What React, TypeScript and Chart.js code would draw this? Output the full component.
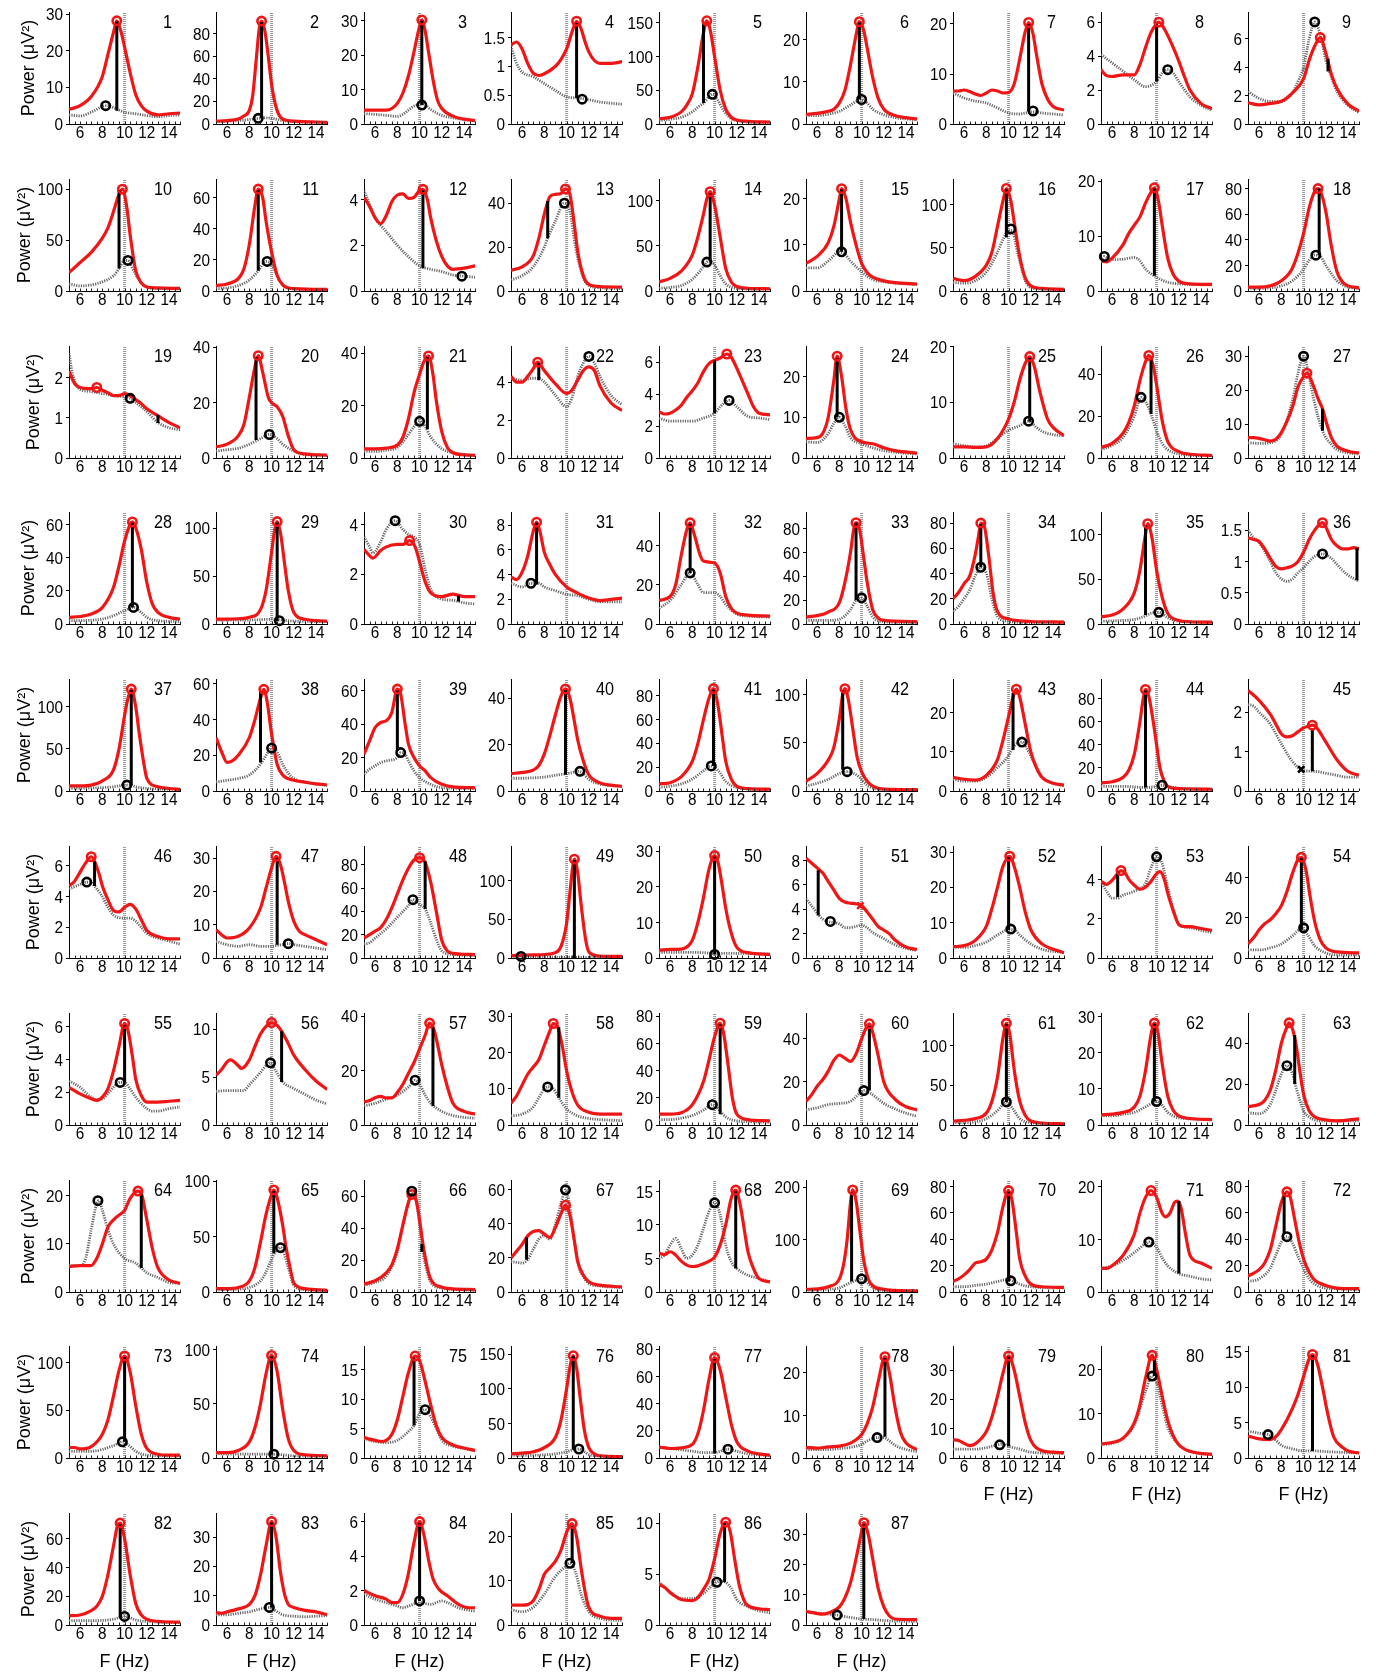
import React, { useEffect, useRef } from 'react';
import { Chart, registerables } from 'chart.js';

Chart.register(...registerables);

// ---------------- DATA ----------------
const xTickLabels = [6, 8, 10, 12, 14];
const xRange = [5, 15];
const refFreq = 10;
const yLabel = 'Power (μV²)';
const xLabel = 'F (Hz)';

const yMaxes = [
  30.6, 99, 32.5, 1.94, 166, 26.5, 22.4, 6.6, 7.9,
  110, 72, 4.9, 51, 124, 24.3, 130, 20.4, 87.5,
  2.78, 40.5, 42.8, 5.9, 7.0, 27.5, 20.1, 53.5, 33,
  67.5, 117, 4.5, 9.07, 57, 94, 88.8, 125, 1.79,
  133, 62.8, 67, 48.3, 94, 116, 28.6, 97, 2.84,
  7.3, 33.6, 96, 145, 31.5, 9.2, 31.7, 5.7, 55.6,
  6.84, 11.7, 41.2, 30.9, 82.5, 52, 141, 31, 54.8,
  23.3, 101, 70, 65.8, 16.7, 214, 85, 21.3, 85,
  117.5, 103.7, 19, 162, 82.5, 26.3, 38.2, 25.3, 15.8,
  78, 38.2, 6.5, 25.4, 11, 37.2,
];

const yStepSizes = [
  10, 20, 10, 0.5, 50, 10, 10, 2, 2,
  50, 20, 2, 20, 50, 10, 50, 10, 20,
  1, 20, 20, 2, 2, 10, 10, 20, 10,
  20, 50, 2, 2, 20, 20, 20, 50, 0.5,
  50, 20, 20, 20, 20, 50, 10, 20, 1,
  2, 10, 20, 50, 10, 2, 10, 2, 20,
  2, 5, 20, 10, 20, 20, 50, 10, 20,
  10, 50, 20, 20, 5, 100, 20, 10, 20,
  50, 50, 5, 50, 20, 10, 10, 10, 5,
  20, 10, 2, 10, 5, 10,
];

// red spectra: flat [f, P, f, P, ...]
const redSpectra: number[][] = [
  [5,4, 6,5, 7,7.5, 8,13, 8.5,19, 9,25, 9.3,28.2, 9.7,25, 10,21, 10.5,14, 11,8, 11.5,5, 12,3.5, 13,2.5, 14,2.8, 15,3],
  [5,2.5, 6,3, 7,4.5, 7.5,7, 8,12, 8.3,25, 8.6,55, 8.9,85, 9.1,91, 9.4,82, 9.7,60, 10,35, 10.4,15, 10.8,6, 11.5,3, 12,2.5, 15,1.5],
  [5,4, 6,4, 7,4, 7.5,4.5, 8,6, 8.5,9, 9,14, 9.5,21, 9.9,27, 10.2,30.2, 10.5,27, 10.8,21, 11.2,13, 11.6,7, 12,4.5, 13,2.3, 14,1.4, 15,1],
  [5,1.37, 5.5,1.42, 6,1.3, 6.5,1.05, 7,0.88, 7.5,0.84, 8,0.87, 9,1.0, 9.5,1.12, 10,1.3, 10.5,1.6, 10.9,1.78, 11.3,1.65, 11.7,1.4, 12,1.25, 12.5,1.1, 13,1.05, 14,1.05, 15,1.08],
  [5,8, 6,10, 7,18, 7.5,28, 8,45, 8.5,85, 9,135, 9.3,153, 9.6,140, 10,100, 10.5,50, 11,22, 11.5,10, 12,6, 13,4, 15,3],
  [5,2.3, 6,2.5, 7,3, 7.5,3.5, 8,5, 8.5,8, 9,14, 9.5,21, 9.8,24.2, 10.2,22, 10.5,18, 11,11, 11.5,6, 12,3.5, 13,2, 14,1.5, 15,1.2],
  [5,6.6, 5.5,6.6, 6,6.8, 6.5,6.5, 7,6.0, 7.5,5.7, 8,6.2, 8.5,6.8, 9,6.6, 9.5,6.2, 10,6.3, 10.5,8, 11,13, 11.5,18.5, 11.8,20.3, 12.2,18, 12.5,14, 13,8, 13.5,5, 14,3.5, 15,2.8],
  [5,3.2, 5.5,2.85, 6,2.8, 7,2.9, 8,2.9, 8.5,3.5, 9,4.5, 9.5,5.4, 10,5.9, 10.2,6.0, 10.7,5.6, 11.5,4.5, 12,3.7, 12.5,2.8, 13,2.0, 14,1.2, 15,0.9],
  [5,1.5, 6,1.35, 7,1.45, 8,1.6, 9,2.2, 10,3.2, 10.5,4.5, 11,5.5, 11.5,6.1, 12,5, 12.5,3.5, 13,2.5, 14,1.4, 15,0.9],
  [5,18, 6,28, 7,38, 8,52, 8.5,62, 9,78, 9.5,95, 9.8,100, 10.2,82, 10.5,55, 11,20, 11.5,8, 12,4, 13,3, 15,2.5],
  [5,3.5, 6,4.5, 7,8, 7.5,14, 8,30, 8.5,55, 8.8,65.5, 9.2,60, 9.5,45, 10,25, 10.5,10, 11,4, 12,1.5, 15,1],
  [5,4.1, 5.5,3.7, 6,3.2, 6.5,2.95, 7,3.3, 7.5,3.9, 8,4.2, 8.5,4.25, 9,4.05, 9.5,4.1, 10,4.4, 10.3,4.45, 10.7,4.0, 11,3.2, 11.5,2.2, 12,1.5, 12.5,1.1, 13,0.95, 14,1.0, 15,1.1],
  [5,9.5, 6,11, 7,16, 7.5,24, 8,35, 8.5,43, 9,44, 9.5,44.5, 9.9,46.5, 10.3,44, 10.7,30, 11,18, 11.5,7, 12,3, 13,2, 15,1.8],
  [5,10, 6,14, 7,22, 8,40, 8.5,60, 9,85, 9.3,102, 9.6,110, 10,95, 10.5,60, 11,25, 11.5,10, 12,5, 13,3, 15,2.5],
  [5,6, 6,7.5, 7,10.5, 7.5,14, 8,20, 8.2,22.2, 8.6,20, 9,15, 9.5,10, 10,6, 10.5,4, 11,3, 12,2.2, 13,1.8, 15,1.5],
  [5,15, 5.5,13, 6,12, 7,17, 8,30, 8.5,45, 9,75, 9.5,105, 9.8,119, 10.2,105, 10.5,80, 11,40, 11.5,15, 12,6, 13,3, 15,2],
  [5,5.5, 5.5,5.3, 6,6, 7,8.5, 7.5,10.5, 8,12, 8.5,13.5, 9,16, 9.5,18, 9.8,18.8, 10.2,16, 10.5,12, 11,6, 11.5,3, 12,1.8, 13,1.3, 15,1.2],
  [5,3, 6,3, 7,4, 8,8, 9,18, 10,45, 10.5,65, 11,78, 11.3,80, 11.6,76, 12,62, 12.5,35, 13,15, 13.5,7, 14,4, 15,2.5],
  [5,2.15, 5.5,1.85, 6,1.75, 7,1.72, 7.5,1.75, 8,1.68, 8.5,1.62, 9,1.55, 9.5,1.55, 10,1.6, 10.5,1.55, 11,1.45, 11.5,1.35, 12,1.22, 13,1.05, 14,0.88, 15,0.75],
  [5,4, 6,5, 7,8, 7.5,12, 8,22, 8.5,33, 8.8,37, 9.2,31, 9.7,22, 10,20, 10.5,18.5, 11,15, 11.5,8, 12,3, 13,1.5, 15,1],
  [5,3.5, 6,3.5, 7,3.8, 8,5, 8.5,8, 9,15, 9.5,25, 10,32, 10.4,37, 10.8,39, 11.2,32, 11.5,22, 12,10, 12.5,4, 13,2, 14,1.2, 15,1],
  [5,4.3, 5.5,4.0, 6,4.0, 6.5,4.3, 7,4.7, 7.4,5.05, 8,4.6, 9,3.9, 10,3.4, 10.5,3.6, 11,4.1, 11.5,4.6, 12,4.8, 12.5,4.6, 13,3.8, 14,2.9, 15,2.5],
  [5,2.9, 5.5,2.75, 6,2.8, 6.5,3.0, 7,3.3, 7.5,3.8, 8,4.2, 8.5,4.7, 9,5.4, 9.5,5.9, 10,6.1, 10.5,6.25, 11.1,6.5, 11.5,6.3, 12,5.6, 13,4, 13.5,3.2, 14,2.8, 15,2.7],
  [5,4.8, 6,5, 6.5,6, 7,10, 7.5,19, 7.8,25, 8.2,20, 8.6,12, 9,7, 10,4, 11,3.5, 12,2.5, 13,1.8, 15,1.2],
  [5,2, 6,2, 7,1.9, 8,2, 9,3.5, 10,7, 10.5,10, 11,14, 11.5,17, 11.9,18.2, 12.3,16.5, 12.8,12, 13.5,7, 14,5.5, 15,4],
  [5,5, 6,7, 7,12, 7.5,17, 8,25, 8.5,37, 9,46, 9.3,49, 9.7,44, 10,35, 10.5,18, 11,8, 12,3, 13,1.8, 15,1.2],
  [5,6, 5.5,6, 6,5.8, 7,5, 7.5,5.5, 8,7.5, 9,15, 9.5,21, 10,24, 10.3,25, 10.8,22, 11.3,17.5, 11.7,14.5, 12,11, 12.5,6, 13,3.5, 14,2, 15,1.5],
  [5,4, 6,4.5, 7,6, 8,10, 9,22, 9.5,35, 10,50, 10.5,60, 10.7,61.5, 11,58, 11.5,45, 12,25, 12.5,12, 13,7, 14,4, 15,3],
  [5,5, 6,5, 7,5.5, 8,7, 9,15, 9.5,35, 10,75, 10.3,100, 10.5,107, 10.8,95, 11.2,60, 11.5,35, 12,12, 13,5, 15,3],
  [5,3.0, 5.5,2.75, 5.8,2.65, 6.5,2.95, 7,3.1, 8,3.2, 8.5,3.2, 9.1,3.35, 9.6,3.1, 10,2.5, 10.5,1.7, 11,1.25, 12,1.1, 13,1.2, 13.5,1.15, 14,1.1, 15,1.1],
  [5,3.8, 5.5,3.6, 6,4.2, 6.5,5.5, 7,7.5, 7.3,8.25, 7.6,7.5, 8,5.8, 8.5,4.8, 9,4, 10,3, 11,2.5, 12,2.1, 13,1.9, 14,2, 15,2.1],
  [5,12, 6,14, 6.5,20, 7,35, 7.5,48, 7.8,51.5, 8.2,45, 8.7,35, 9,32, 10,31, 10.5,26, 11,14, 11.5,8, 12,5.5, 13,4.5, 15,4],
  [5,6, 6,7, 7,10, 8,18, 8.5,35, 9,60, 9.3,80, 9.5,85, 9.8,80, 10.2,55, 10.5,35, 11,12, 11.5,5, 12,3, 15,2],
  [5,20, 5.5,25, 6,32, 6.5,38, 7,55, 7.3,70, 7.5,80, 7.8,78, 8.2,55, 8.6,25, 9,10, 10,4, 11,2.5, 12,2, 15,1.5],
  [5,8, 6,10, 7,17, 8,35, 8.5,60, 9,100, 9.2,112, 9.6,95, 10,60, 10.5,30, 11,12, 12,4, 13,2.5, 15,2],
  [5,1.38, 5.5,1.35, 6,1.32, 6.5,1.2, 7,1.05, 7.5,0.92, 8,0.88, 8.5,0.9, 9,0.93, 9.5,1.0, 10,1.15, 10.5,1.35, 11,1.5, 11.7,1.62, 12,1.55, 12.5,1.35, 13,1.25, 13.5,1.2, 14,1.2, 14.5,1.22, 15,1.2],
  [5,6, 6,6, 7,7, 8,12, 9,25, 9.5,50, 10,90, 10.3,110, 10.6,121, 11,100, 11.3,70, 11.7,35, 12,15, 13,5, 14,3, 15,2],
  [5,30, 5.5,22, 6,16, 6.5,17, 7,20, 8,30, 8.5,40, 9,52, 9.3,57, 9.6,50, 10,32, 10.5,15, 11,9, 12,6, 13,5, 14,4, 15,3.5],
  [5,22, 5.5,30, 6,38, 6.5,41, 7,42, 7.5,47, 8,61, 8.3,58, 8.7,40, 9,28, 9.5,20, 10,15, 10.5,12, 11,8, 12,4, 13,2.5, 15,2],
  [5,7.5, 6,8, 7,9, 7.5,11, 8,16, 8.5,24, 9,33, 9.5,41, 9.9,44, 10.3,40, 10.7,30, 11,22, 11.5,13, 12,7, 13,3.5, 14,2.5, 15,2],
  [5,6, 6,7, 7,12, 8,25, 8.5,40, 9,60, 9.5,78, 9.9,86, 10.3,72, 10.7,45, 11,25, 11.5,10, 12,4, 13,2, 15,1.5],
  [5,10, 6,18, 7,32, 7.5,45, 8,75, 8.3,100, 8.5,106, 8.8,95, 9.2,65, 9.6,35, 10,20, 10.5,10, 11,5, 12,2, 15,1.5],
  [5,3.5, 6,3, 7,2.8, 8,4, 9,8, 9.5,13, 10,19, 10.4,24, 10.7,26, 11,24, 11.5,17, 12,10, 12.5,6, 13,3.5, 14,2, 15,1.5],
  [5,7, 6,8, 7,12, 7.5,18, 8,32, 8.5,60, 8.8,80, 9,88, 9.3,82, 9.7,60, 10,40, 10.3,20, 10.7,8, 11,4, 12,2, 15,1.5],
  [5,2.55, 6,2.3, 7,1.95, 7.5,1.7, 8,1.45, 8.5,1.37, 9,1.4, 9.5,1.5, 10,1.6, 10.5,1.65, 10.8,1.67, 11.2,1.6, 12,1.25, 13,0.8, 14,0.5, 15,0.4],
  [5,4.7, 5.5,5.0, 6,5.6, 6.5,6.2, 7,6.6, 7.3,6.3, 7.7,5.5, 8,4.7, 8.5,3.8, 9,3.1, 9.5,3.0, 10,3.3, 10.5,3.5, 11,3.2, 11.5,2.5, 12,1.8, 13,1.4, 14,1.25, 15,1.25],
  [5,8.5, 5.5,7, 6,6, 7,6.5, 8,9, 9,15, 9.5,21, 10,27, 10.4,30.5, 10.8,28, 11.2,22, 11.5,17, 12,11, 12.5,8, 13,7, 14,5.5, 15,4],
  [5,17, 5.5,20, 6,23, 6.5,26, 7,33, 7.5,43, 8,55, 8.5,67, 9,77, 9.5,84, 10,86, 10.5,82, 11,65, 11.5,40, 12,15, 12.5,6, 13,4, 15,3],
  [5,3, 7,4, 8,4.5, 9,7, 9.5,15, 10,45, 10.3,85, 10.7,128, 11,110, 11.3,70, 11.7,25, 12,8, 13,2.5, 15,2],
  [5,2.2, 6,2.4, 7,2.5, 8,5, 8.5,10, 9,17, 9.5,25, 10,28.8, 10.3,27, 10.7,20, 11,14, 11.5,7, 12,3, 13,1.5, 15,1],
  [5,8.2, 5.5,7.8, 6,7.4, 6.5,7.0, 7,6.3, 7.5,5.6, 8,4.9, 8.5,4.6, 9,4.5, 9.5,4.45, 10,4.3, 10.5,3.8, 11,3.2, 11.5,2.6, 12,2.3, 12.5,2.0, 13,1.5, 14,0.9, 15,0.7],
  [5,3.2, 6,3.5, 7,5, 8,9, 8.5,14, 9,20, 9.5,26, 10.1,28.8, 10.5,26, 11,20, 11.5,13, 12,8, 13,4, 14,2.5, 15,1.5],
  [5,3.9, 5.5,3.75, 6,3.95, 6.5,4.3, 6.8,4.45, 7.2,4.3, 7.5,4.0, 8,3.7, 8.5,3.5, 9,3.6, 9.5,3.9, 10,4.3, 10.3,4.4, 10.7,4.0, 11,3.3, 11.5,2.4, 12,1.7, 12.5,1.6, 13,1.6, 14,1.5, 15,1.4],
  [5,7, 5.5,10, 6,14, 6.5,17, 7,19, 7.5,22, 8,26, 8.5,33, 9,42, 9.5,49, 9.8,50, 10.2,44, 10.6,30, 11,18, 11.5,9, 12,5, 13,3, 15,2.5],
  [5,2.3, 6,1.9, 7,1.6, 7.5,1.5, 8,1.7, 8.5,2.2, 9,3.3, 9.5,4.8, 10,6.2, 10.3,5.8, 10.7,4.2, 11,2.8, 11.5,1.8, 12,1.4, 13,1.4, 14,1.45, 15,1.5],
  [5,5.2, 5.5,5.8, 6,6.6, 6.3,6.8, 7,6.2, 7.3,5.9, 8,6.8, 8.5,8.2, 9,9.5, 9.5,10.3, 10,10.7, 10.5,10.4, 11,9.6, 11.5,8.5, 12,7.3, 13,5.8, 14,4.6, 15,3.7],
  [5,8.5, 5.5,9, 6,10, 6.5,10.5, 7,10, 7.5,10, 8,12, 8.5,15, 9,19, 9.5,23, 10,28, 10.5,33, 10.9,37.5, 11.3,35, 11.7,28, 12,22, 12.5,14, 13,8, 14,5, 15,4],
  [5,6, 5.5,8, 6,11, 6.5,14, 7,16, 7.5,18, 8,22, 8.5,26, 8.8,28, 9.2,27, 9.6,22, 10,15, 10.5,9, 11,5.5, 12,3.5, 13,3, 15,3],
  [5,8, 6,8, 7,9, 8,15, 9,32, 9.5,48, 10,65, 10.5,75, 10.8,68, 11.2,45, 11.6,20, 12,8, 13,4, 15,3],
  [5,11, 5.5,14, 6,18, 6.5,21, 7,25, 7.5,30, 8,32.5, 8.5,31, 9,29.5, 9.5,33, 10,40, 10.5,46, 10.7,47, 11,43, 11.5,32, 12,20, 13,12, 14,8.5, 15,7],
  [5,5, 6,6, 7,8, 8,15, 8.5,30, 9,60, 9.5,110, 9.8,128, 10.1,115, 10.5,70, 11,30, 11.5,12, 12,5, 13,2.5, 15,1.5],
  [5,2.8, 6,3, 7,3.5, 8,5, 8.5,8, 9,15, 9.5,25, 9.8,28.2, 10.1,26, 10.5,17, 11,8, 11.5,4, 12,2.5, 13,1.8, 15,1.5],
  [5,9, 6,10, 6.5,12, 7,17, 7.5,27, 8,40, 8.5,48, 8.7,50, 9,47, 9.3,40, 9.7,25, 10,15, 10.5,7, 11,4, 12,2.5, 13,2, 15,3],
  [5,5.3, 6,5.5, 7,5.5, 7.5,7, 8,10, 8.5,13.5, 9,15, 9.5,16, 10,17, 10.5,19.5, 11.2,21, 11.5,20.5, 12,15, 12.5,9, 13,5, 14,2.5, 15,1.8],
  [5,3, 6,3, 7,4, 8,10, 8.5,22, 9,45, 9.5,70, 10,88, 10.2,92, 10.5,85, 11,60, 11.3,40, 11.7,20, 12,8, 13,3, 15,1.5],
  [5,5, 6,7, 7,12, 7.5,17, 8,27, 8.5,42, 9,56, 9.3,61, 9.7,57, 10,45, 10.3,30, 10.7,15, 11,8, 12,3, 13,2, 15,1.5],
  [5,20, 5.5,24, 6,28, 6.5,33, 7,35.5, 7.5,36, 8,34, 8.5,32, 9,38, 9.5,46, 9.9,51, 10.3,45, 10.7,30, 11,18, 11.5,10, 12,6, 13,4, 15,3],
  [5,5.8, 5.5,5.6, 6,6.0, 6.5,5.5, 7,4.6, 7.5,4.0, 8,3.8, 8.5,3.9, 9,4.2, 9.5,4.6, 10,5.2, 10.5,7, 11,10, 11.5,14, 11.9,15.2, 12.3,13, 12.7,9, 13,6, 13.5,3.5, 14,2, 15,1.5],
  [5,5, 6,6, 7,10, 8,25, 8.4,55, 8.7,100, 9.0,170, 9.2,195, 9.5,175, 9.8,125, 10.2,60, 10.6,25, 11,12, 12,5, 13,3, 15,2],
  [5,8, 5.5,10, 6,13, 6.5,17, 7,22, 7.5,23, 8,25, 8.5,32, 9,45, 9.5,65, 10,77, 10.3,70, 10.7,45, 11,25, 11.5,12, 12,6, 13,4, 15,3.5],
  [5,4.5, 5.5,4.5, 6,5, 7,7, 8,11, 8.5,15, 9,18, 9.5,19.3, 10,18, 10.5,15, 10.8,14.3, 11.2,15, 11.6,17, 11.9,17.3, 12.2,16, 12.6,11, 13,7, 14,5.5, 15,4.5],
  [5,12, 6,17, 6.5,22, 7,32, 7.5,50, 8,68, 8.5,76, 8.8,72, 9.2,55, 9.6,38, 10,25, 10.5,15, 11,9, 12,5, 13,3, 15,2.5],
  [5,11, 5.5,11, 6,9.5, 7,12, 8,25, 8.5,40, 9,65, 9.5,92, 10,107, 10.5,90, 11,55, 11.5,25, 12,10, 13,4, 14,3, 15,3],
  [5,5, 6,5, 7,7, 8,15, 8.5,28, 9,50, 9.5,78, 10,95, 10.5,80, 11,45, 11.5,18, 12,7, 13,3, 15,2],
  [5,3.5, 5.5,3.2, 6,3, 6.5,2.8, 7,3, 7.5,4, 8,6.5, 8.5,10.5, 9,14.5, 9.6,17.3, 10,16.5, 10.5,13, 11,9, 11.5,5.5, 12,3.5, 13,2.2, 14,1.7, 15,1.3],
  [5,6, 6,7, 7,9, 8,15, 9,30, 9.5,55, 10,100, 10.4,140, 10.6,148, 10.9,130, 11.2,90, 11.6,40, 12,15, 12.5,6, 13,3, 15,2],
  [5,8, 6,7, 7,7.5, 8,10, 8.5,18, 9,35, 9.5,58, 10,74, 10.5,65, 11,45, 11.5,25, 12,12, 13,5, 14,3, 15,2],
  [5,2.5, 6,2.3, 7,2.6, 8,2.8, 9,3.5, 10,5.5, 10.5,8, 11,12, 11.5,18, 12.1,23.8, 12.5,20, 13,12, 13.5,6, 14,3.5, 15,2],
  [5,6.2, 5.5,6, 6,5, 6.5,4.2, 7,4.8, 8,9, 8.5,14, 9,21, 9.5,29, 10,34.8, 10.5,30, 11,21, 11.5,12, 12,6, 13,2.5, 14,2, 15,1.8],
  [5,3.2, 6,3.5, 7,4.5, 8,8, 8.5,12, 9,18, 9.6,23.2, 10,20, 10.5,14, 11,8.5, 11.5,5, 12,3, 13,1.5, 15,0.8],
  [5,3.1, 6,2.7, 7,2.6, 7.5,3, 8,4, 9,7, 9.5,9, 10,11.5, 10.5,14, 10.8,14.6, 11.2,13.5, 11.7,10, 12.2,6, 12.7,3, 13.5,1.5, 14,1, 15,0.7],
  [5,6.5, 6,7, 7,10, 7.5,13, 8,20, 8.5,35, 9,55, 9.4,70, 9.6,71, 10,60, 10.5,35, 11,15, 11.5,7, 12,4, 13,2.5, 15,2],
  [5,4.2, 5.5,4, 6,4.5, 7,5.5, 8,7, 8.5,10, 9,17, 9.5,27, 10,35.3, 10.4,30, 10.8,18, 11.2,10, 11.5,7, 12,6, 13,5, 14,4.5, 15,3.5],
  [5,2.0, 6,1.7, 7,1.5, 7.5,1.3, 8,1.3, 8.5,1.8, 9,3, 9.5,4.8, 10,6.0, 10.4,5.2, 10.8,3.8, 11.2,2.7, 11.7,2.1, 12.5,1.7, 13.5,1.2, 14.5,1.0, 15,1.0],
  [5,4.5, 6,4.5, 7,5.5, 7.5,8, 8,11.5, 8.5,13, 9,14.5, 9.5,17, 10,21, 10.5,23, 10.9,20, 11.3,13, 11.7,7, 12,4, 13,2, 14,1.5, 15,1.5],
  [5,4, 5.5,3.7, 6,3.2, 6.5,2.8, 7,2.5, 8,2.4, 8.5,2.7, 9,3.5, 9.5,4.5, 10,6.5, 10.5,9, 11,10.1, 11.4,9.2, 11.8,6.5, 12.2,4, 12.7,2.3, 13,1.9, 14,1.6, 15,1.5],
  [5,4.5, 6,3.8, 6.5,3.6, 7,4, 8,6, 8.5,9, 9,14, 9.5,22, 10,31, 10.2,34, 10.6,30, 11,22, 11.5,12, 12,6, 12.5,3, 13,2, 15,1.8],
];

// dotted (gray) spectra: flat [f, P, ...]
const graySpectra: number[][] = [
  [5,2.5, 6,2.2, 7,3.2, 8,4.8, 8.4,5, 9,4.5, 9.5,3.8, 10,3.2, 11,2.8, 12,2.3, 13,2, 14,2.3, 15,2.5],
  [5,2, 6,2.5, 7,3, 8,4, 8.8,5, 9.5,5.5, 10,5, 10.5,4, 11,3, 12,2, 13,1.7, 15,1.5],
  [5,3, 6,2.8, 7,2.5, 8,2.2, 8.5,2.8, 9,4, 9.5,5.2, 10.2,5.8, 10.6,5.3, 11,4.2, 12,2.5, 13,1.8, 14,1.3, 15,1],
  [5,1.35, 5.5,1.05, 6,0.9, 7,0.82, 8,0.7, 9,0.58, 10,0.47, 11,0.45, 12,0.42, 13,0.38, 14,0.36, 15,0.34],
  [5,5, 6,7, 7,10, 8,18, 8.5,25, 9,31, 9.8,44, 10.3,35, 10.8,20, 11.5,8, 12,5, 13,3, 15,2],
  [5,2, 6,2, 7,2.3, 8,3, 9,4.5, 9.5,5.3, 10,5.8, 10.5,5, 11,3.5, 12,2.2, 13,1.5, 15,1],
  [5,6.2, 6,5.2, 7,4.6, 8,4.2, 9,3.2, 10,2.2, 11,2.0, 12,2.4, 12.5,2.4, 13,2.2, 14,2.0, 15,1.8],
  [5,4.1, 6,3.6, 7,3.1, 8,2.6, 9,2.2, 10,2.5, 10.5,3.0, 11,3.2, 11.5,3.0, 12,2.5, 13,1.6, 14,1.1, 15,0.8],
  [5,2.3, 6,1.8, 7,1.6, 8,1.6, 9,2.2, 9.5,3, 10,4.0, 10.5,6.0, 11,7.2, 11.5,6.3, 12,4.5, 12.5,3.3, 13,2.3, 14,1.3, 15,0.8],
  [5,7, 6,5, 7,6, 8,9, 9,15, 9.5,22, 10,30, 10.3,30, 10.8,20, 11.5,8, 12,4, 13,2.5, 15,2],
  [5,1.5, 6,2, 7,3.5, 8,7, 8.8,13, 9.5,19, 10,17, 10.5,10, 11,4, 12,1.5, 15,1],
  [5,4.4, 5.5,3.8, 6,3.2, 7,2.6, 8,2.0, 9,1.5, 10,1.1, 11,0.95, 12,0.85, 13,0.7, 14,0.65, 15,0.6],
  [5,5, 6,7, 7,11, 8,20, 8.3,24, 9,32, 9.8,40, 10.3,36, 10.8,20, 11.5,6, 12,2.5, 13,1.5, 15,1],
  [5,3, 6,4, 7,6, 8,13, 9,27, 9.3,32, 9.6,33, 10,29, 10.5,17, 11,8, 12,3, 15,2],
  [5,5, 6,5, 7,6.5, 8,8.5, 8.5,8, 9,6.5, 10,4.2, 11,2.5, 12,2, 13,1.7, 15,1.4],
  [5,10, 6,9, 7,12, 8,22, 9,45, 9.5,60, 10,70, 10.3,70, 10.8,45, 11.5,12, 12,4, 13,2, 15,1.5],
  [5,5.5, 5.3,6.3, 5.6,6.0, 6,5.7, 7,5.8, 8,6.1, 8.5,5.5, 9,4, 10,2.5, 11,1.6, 12,1.3, 15,1.1],
  [5,2, 6,2, 7,2.5, 8,4, 9,8, 10,17, 10.5,24, 11,28, 11.5,27, 12,20, 13,8, 14,3, 15,2],
  [5,2.6, 5.3,2.1, 5.6,1.85, 6,1.7, 7,1.65, 8,1.6, 9,1.55, 10,1.52, 10.5,1.48, 11,1.38, 12,1.15, 13,0.88, 14,0.75, 15,0.7],
  [5,2.5, 6,3, 7,3.5, 8,5, 9,7, 9.8,8.5, 10.5,7, 11,5, 12,2.5, 13,1.2, 15,1],
  [5,2.5, 6,2.5, 7,3, 8,4, 9,9, 9.5,12, 10,14, 10.5,12, 11,8, 12,3.5, 13,2, 15,1],
  [5,4.2, 6,4.1, 7,4.2, 7.5,4.2, 8,4.0, 9,3.3, 10,2.7, 10.5,3.2, 11,4.3, 11.5,5.0, 12,5.35, 12.5,5.0, 13,4.3, 14,3.3, 15,2.8],
  [5,2.5, 6,2.3, 7,2.3, 8,2.3, 9,2.5, 10,2.8, 10.5,3.2, 11,3.5, 11.3,3.6, 12,3.2, 13,2.6, 14,2.5, 15,2.4],
  [5,4, 6,3.8, 7,6, 7.5,8.5, 8,10, 8.5,8, 9,5, 10,3.5, 11,2.5, 12,1.8, 13,1.4, 15,1],
  [5,2.6, 6,2.2, 7,2, 8,2.2, 9,3.5, 10,5, 11,5.8, 11.8,6.6, 12.5,5.5, 13,4.8, 14,4.2, 15,4],
  [5,4, 6,6, 7,10, 8,20, 8.6,29, 9,27, 9.5,21, 10,13, 10.5,7, 11,4, 12,2, 15,1],
  [5,4.5, 6,4.3, 7,4.5, 8,7, 9,17, 9.5,25, 10,30, 10.5,24, 11,16, 11.7,8, 12.5,4, 13,2.5, 14,1.5, 15,1.2],
  [5,2, 6,2, 7,2.3, 8,3, 9,5, 10,8, 10.8,10, 11.5,7, 12,4, 13,2, 15,1.5],
  [5,4, 7,4, 9,4.5, 10,5, 11,4, 12,3, 15,2.5],
  [5,3.5, 5.5,3.1, 5.8,2.85, 6.5,3.3, 7,3.8, 7.8,4.15, 8.5,3.8, 9,3.6, 9.5,3.5, 10,3.2, 10.5,2.2, 11,1.4, 12,1.0, 13,0.95, 14,0.85, 15,0.8],
  [5,3.3, 6,3.0, 6.8,3.3, 7.5,3.3, 8,3.0, 9,2.7, 10,2.4, 11,2.3, 12,2.0, 13,1.8, 14,1.8, 15,1.8],
  [5,8, 6,12, 7,20, 7.8,26, 8.5,20, 9,16, 10,16, 10.5,14, 11,10, 12,5, 13,4, 15,3.5],
  [5,3, 6,3, 7,3, 8,4, 9,12, 9.5,20, 10,22, 10.5,15, 11,6, 12,2, 15,1],
  [5,10, 5.5,14, 6,20, 6.5,27, 7,38, 7.5,45, 8,40, 8.5,20, 9,6, 10,2, 12,1, 15,0.8],
  [5,3, 7,4, 8,5, 9,9, 9.5,12, 10.2,13, 11,7, 12,3, 15,2],
  [5,1.5, 5.5,1.38, 6,1.3, 7,1.0, 7.5,0.82, 8,0.72, 8.5,0.68, 9,0.72, 9.5,0.82, 10,0.9, 10.5,1.0, 11,1.08, 11.7,1.12, 12.5,1.05, 13,0.95, 14,0.78, 14.8,0.7, 15,0.68],
  [5,3, 7,3.5, 9,5, 10,7, 10.5,7, 11,5, 12,3, 15,2],
  [5,5, 6,6, 7,7, 8,9, 9,15, 9.5,20, 10,24, 10.5,22, 11,15, 11.5,10, 12,7, 13,5, 15,3],
  [5,10, 5.5,13, 6,15, 6.5,17, 7,18, 8,20, 8.3,23, 8.7,22, 9,18, 9.5,12, 10,8, 11,4, 12,2, 15,1.5],
  [5,5.5, 6,5.5, 7,5.7, 8,6, 9,6.8, 10,7.5, 10.5,8, 11,8.5, 11.5,7.5, 12,5, 13,3, 15,2],
  [5,3, 6,4, 7,6, 8,10, 9,17, 9.7,21, 10,20, 10.5,15, 11,8, 12,3, 15,1],
  [5,5, 6,8, 7,12, 8,18, 8.7,20, 9.5,17, 10,12, 10.5,6, 11,3, 12,1.5, 15,1],
  [5,3, 6,2.5, 7,2.5, 8,3.5, 9,6, 10,9, 10.5,11.5, 11.2,12.5, 11.8,10, 12.5,6, 13,3.5, 14,2, 15,1.3],
  [5,4, 7,4, 8,3.5, 9,3, 10,4, 10.5,5, 11,4, 12,2.5, 15,1.5],
  [5,2.2, 5.5,2.15, 6,2.0, 7,1.7, 8,1.2, 9,0.75, 10,0.52, 11,0.5, 12,0.45, 13,0.4, 14,0.35, 15,0.35],
  [5,4.5, 6,4.8, 6.6,4.95, 7,4.9, 7.5,4.5, 8,4.0, 8.5,3.3, 9,2.8, 10,2.6, 10.5,2.6, 11,2.4, 11.5,2.0, 12,1.6, 13,1.3, 14,1.1, 15,0.9],
  [5,5, 6,4, 7,3.5, 8,4, 9,3.5, 10,3.5, 10.5,3.8, 11,4, 11.5,4.3, 12,4, 13,3.5, 14,3, 15,2.5],
  [5,12, 5.5,13, 6,17, 7,25, 8,35, 9,45, 9.4,50, 10,46, 10.5,42, 11,30, 11.5,16, 12,6, 13,3, 15,2],
  [5,1.5, 6,1.5, 8,1.2, 10,1, 12,0.8, 15,0.5],
  [5,1.6, 7,1.6, 9,1.5, 10,1.2, 11,1.3, 12,1.3, 15,1.1],
  [5,4.9, 5.5,4.3, 6,3.7, 6.5,3.2, 7,3.0, 8,2.8, 8.5,2.5, 9,2.5, 9.5,2.6, 10,2.7, 10.5,2.5, 11,2.1, 12,1.6, 13,1.1, 14,0.8, 15,0.6],
  [5,3, 6,3, 7,3.5, 8,4.5, 9,6.5, 10,8, 10.5,8, 11,6.5, 12,4, 13,2.5, 15,1.5],
  [5,3.9, 5.5,3.4, 6,3.05, 6.5,3.05, 7,3.2, 8,3.4, 9,3.8, 9.5,4.6, 10,5.15, 10.5,4.8, 11,3.6, 11.5,2.5, 12,1.7, 13,1.55, 14,1.4, 15,1.3],
  [5,4, 6,4, 7,5, 8,7, 9,11, 9.8,14.5, 10.3,12, 11,6, 12,2.5, 13,1.5, 15,1.5],
  [5,2.7, 6,2.3, 7,1.7, 7.5,1.55, 8,1.6, 9,2.3, 9.6,2.6, 10,2.6, 10.5,2.2, 11,1.7, 12,1.0, 12.5,0.85, 13,0.85, 14,1.0, 15,1.1],
  [5,3.5, 6,3.6, 7,3.6, 7.5,3.6, 8,4.2, 9,5.5, 9.5,6.2, 9.9,6.5, 10.3,5.8, 11,4.5, 12,3.8, 13,3.2, 14,2.6, 15,2.2],
  [5,7, 6,8, 7,9.5, 8,11, 9,14, 9.6,16.5, 10,15, 10.5,11, 11,8, 12,5, 13,3.5, 14,2.8, 15,2.5],
  [5,2.5, 6,3, 7,5, 7.5,7.5, 8,10, 8.3,10.5, 8.8,10, 9.3,7.5, 10,4.5, 11,2.5, 12,1.8, 13,1.5, 15,1.2],
  [5,4, 6,4, 7,5, 8,7, 9,11, 9.8,15, 10.3,12, 11,6, 12,3, 15,2],
  [5,7, 6,8, 7,9.5, 8,10, 9,11, 10,15.5, 10.2,16, 10.7,15, 11.5,12, 12,10, 13,7.5, 14,5.5, 15,4],
  [5,3, 6,3, 7,4, 8,8, 9,18, 9.8,29, 10.3,22, 11,8, 12,3, 15,1],
  [5,2.5, 6,2.5, 7,3, 8,3.5, 9,5, 10,6.5, 10.5,5.5, 11,3.5, 12,2, 15,1.5],
  [5,6, 6,5.5, 7,10, 7.5,17, 8,25, 8.5,29, 9,25, 9.5,15, 10,7, 10.5,4, 11,2.5, 12,2, 15,2],
  [5,5.5, 6,5.5, 6.5,7, 7,13, 7.5,18.5, 7.7,19, 8,17, 8.5,13, 9,10, 10,7, 11,6, 11.5,5, 12,4, 13,3, 14,2, 15,1.8],
  [5,2, 7,2.5, 8,4, 9,10, 9.5,18, 10,30, 10.5,38, 10.8,40, 11.2,32, 11.7,15, 12,6, 13,2, 15,1],
  [5,4, 6,6, 7,10, 8,25, 8.5,42, 9,57, 9.3,63, 9.7,57, 10,42, 10.3,25, 10.7,12, 11,6, 12,2.5, 15,1],
  [5,18, 6,17, 6.5,19, 7,25, 7.5,31, 8,33, 8.5,31, 9,40, 9.5,52, 9.9,60, 10.3,50, 10.7,30, 11,17, 11.5,9, 12,5, 13,3.5, 15,2.5],
  [5,5, 5.5,5.5, 6,7, 6.5,8, 7,6.5, 7.5,5, 8,5.5, 8.5,7, 9,9.5, 9.5,12, 10,13.3, 10.5,11.5, 11,7, 11.5,4.5, 12,3.5, 13,2.5, 14,2, 15,1.5],
  [5,3, 7,5, 8,8, 9,18, 9.5,22, 10,25, 10.5,18, 11,8, 12,3, 15,2],
  [5,4, 6,4, 7,5, 8,6, 9,8, 10,9.5, 10.5,8, 11,6, 12,4, 15,3],
  [5,4.5, 6,5, 7,6, 8,7.5, 9,9.2, 9.3,9.5, 10,8.5, 10.5,6.5, 11,5, 12,3.5, 13,3, 14,2.5, 15,2.3],
  [5,8, 6,10, 7,18, 7.5,28, 8,38, 8.5,42, 9,37, 9.5,27, 10,18, 10.5,10, 11,6, 12,3, 15,2],
  [5,7, 6,7, 7,7, 8,9, 9,13, 9.8,17, 10.3,14, 11,7, 12,3, 15,2],
  [5,4, 7,3.5, 9,3.5, 10,3.5, 11,3, 12,2, 15,1.5],
  [5,3.3, 6,2.8, 7,2.6, 8,3, 9,4.5, 9.5,5.5, 10,7.5, 10.5,8.2, 11,7, 11.5,5, 12,3, 13,2, 14,1.6, 15,1.2],
  [5,4, 7,4, 9,6, 10,9, 10.6,12, 11.1,13, 11.6,9, 12,5, 13,3, 15,2],
  [5,8, 6,7, 7,6, 8,5, 9,4, 10,4, 10.5,5, 11.2,6.5, 12,5, 13,3, 15,2],
  [5,2, 6,2, 7,2, 8,2.2, 9,2.5, 10,3.2, 10.5,4, 11.4,4.8, 12,4.8, 12.5,4, 13,3, 14,2, 15,1.5],
  [5,3, 6,3, 7,3, 8,3.5, 9,4.5, 9.5,4.8, 10,4, 11,3, 12,2, 15,1.5],
  [5,3, 6,3.3, 7,4.5, 8,7.5, 9,15, 9.6,18.5, 10,17, 10.5,12, 11,7, 12,3, 13,1.5, 15,0.8],
  [5,3.8, 6,3.5, 6.8,3.3, 7.5,2.5, 8,1.8, 9,1.3, 10,1.0, 11,1, 12,0.9, 15,0.7],
  [5,3, 7,3, 9,4, 10,6, 10.5,5, 11,3.5, 12,2.5, 15,1.5],
  [5,3.5, 6,3.5, 7,4, 8,4.5, 9,5.5, 9.8,6, 10.3,5, 11,3.5, 12,3, 13,2.8, 14,3, 15,3.2],
  [5,1.8, 6,1.5, 7,1.3, 8,1.1, 8.5,1.0, 9,1.1, 10,1.3, 11,1.2, 12,1.4, 12.5,1.3, 13.5,1.0, 14.5,0.85, 15,0.8],
  [5,3.5, 6,3, 7,4, 8,7, 9,11, 10,13.5, 10.3,14, 10.8,12, 11.3,7, 12,3, 13,1.5, 15,1],
  [5,4.2, 5.5,3.7, 6,3.2, 7,2.6, 8,2.6, 9,3.1, 9.5,3.6, 10,4.1, 10.5,4.3, 11,4.2, 11.5,3.6, 12,2.5, 13,1.8, 14,1.4, 15,1.2],
  [5,4.5, 6,4, 7,3.6, 7.8,3.3, 8.5,2.8, 9,2.5, 10,2, 11,1.8, 12,1.5, 13,1.3, 15,1.2],
];

// red marker [f, P]
const redMarks: number[][] = [
  [9.3,28.2],[9.1,91],[10.2,30.2],[10.9,1.78],[9.3,153],[9.8,24.2],[11.8,20.3],[10.2,6.0],[11.5,6.1],
  [9.8,100],[8.8,65.5],[10.3,4.45],[9.9,46.5],[9.6,110],[8.2,22.2],[9.8,119],[9.8,18.8],[11.3,80],
  [7.5,1.75],[8.8,37],[10.8,39],[7.4,5.05],[11.1,6.5],[7.8,25],[11.9,18.2],[9.3,49],[10.3,25],
  [10.7,61.5],[10.5,107],[9.1,3.35],[7.3,8.25],[7.8,51.5],[9.5,85],[7.5,80],[9.2,112],[11.7,1.62],
  [10.6,121],[9.3,57],[8.0,61],[9.9,44],[9.9,86],[8.5,106],[10.7,26],[9.0,88],[10.8,1.67],
  [7.0,6.6],[10.4,30.5],[10.0,86],[10.7,128],[10.0,28.8],[9.9,4.3],[10.1,28.8],[6.8,4.45],[9.8,50],
  [10.0,6.2],[10.0,10.7],[10.9,37.5],[8.8,28],[10.5,75],[10.7,47],[9.8,128],[9.8,28.2],[8.7,50],
  [11.2,21],[10.2,92],[9.3,61],[9.9,51],[11.9,15.2],[9.2,195],[10.0,77],[9.5,19.3],[8.5,76],
  [10.0,107],[10.0,95],[9.6,17.3],[10.6,148],[10.0,74],[12.1,23.8],[10.0,34.8],[9.6,23.2],[10.8,14.6],
  [9.6,71],[10.0,35.3],[10.0,6.0],[10.5,23],[11.0,10.1],[10.2,34],
];

// black marker on dotted spectrum [f, P]
const blackMarks: number[][] = [
  [8.3,5],[8.8,5],[10.2,5.5],[11.4,0.43],[9.8,44],[10.0,5.8],[12.2,2.6],[11.0,3.2],[11.0,7.2],
  [10.3,30],[9.6,19],[13.8,0.65],[9.8,40],[9.3,32],[8.2,8.5],[10.2,72],[5.3,6.3],[11.1,28],
  [10.5,1.48],[9.8,8.5],[10.0,14],[12.0,5.35],[11.3,3.6],[8.0,10],[11.8,6.6],[8.6,29],[10.0,30],
  [10.8,10],[10.7,3.5],[7.8,4.15],[6.8,3.3],[7.8,26],[10.0,22],[7.5,45],[10.2,13],[11.7,1.12],
  [10.2,7],[10.0,24],[8.3,23],[11.2,8.5],[9.7,21],[8.7,20],[11.2,12.5],[10.5,5],[9.8,0.55],
  [6.6,4.95],[11.5,4.3],[9.4,50],[5.9,2],[10.0,1.0],[7.2,3.0],[10.2,8.2],[10.0,5.15],[10.0,15],
  [9.6,2.6],[9.9,6.5],[9.6,16.5],[8.3,10.5],[9.8,15],[10.2,16],[9.8,29],[10.0,6.5],[8.5,29],
  [7.6,19],[10.8,40],[9.3,63],[9.9,60],[10.0,13.3],[10.0,25],[10.2,8.5],[9.3,9.5],[8.5,42],
  [9.8,17],[10.2,3.5],[10.5,8.2],[11.1,13],[11.2,6.5],[11.4,4.8],[9.2,4.5],[9.6,18.5],[6.8,3.3],
  [10.0,6],[9.8,6],[10.0,1.4],[10.3,14],[10.2,4.2],[7.8,3.3],
];

// difference bar [f, top P, bottom P]
const diffBars: number[][] = [
  [9.3,28,3.6],[9.1,90,5],[10.2,30,5.5],[10.9,1.75,0.45],[9.0,150,31],[9.8,24,5.8],[11.8,20,2.5],[10.0,5.9,2.5],[12.2,4.6,3.7],
  [9.5,99,22],[8.8,65,13],[10.3,4.4,1.0],[8.3,41,24],[9.6,108,33],[8.2,22,8.5],[9.8,118,62],[9.8,18.7,2.8],[11.4,80,28],
  [13,1.07,0.87],[8.6,36.5,6.5],[10.7,38.5,11],[7.5,5.0,4.1],[10.0,6.1,2.8],[7.8,24.5,10],[11.9,18,6.5],[9.5,47,21],[11.7,14.5,8],
  [10.7,61,10],[10.5,106,3],[13.5,1.15,0.9],[7.3,8.2,3.2],[7.8,51,26],[9.5,85,20],[7.5,79,45],[9.0,110,10],[14.8,1.22,0.7],
  [10.6,120,7],[9.0,56,16],[8.0,60,24],[9.9,43.5,7],[9.9,85,21],[8.3,104,22],[10.4,25,10.5],[9.0,87,3],[10.8,1.6,0.5],
  [7.3,6.3,4.7],[10.5,30,4],[10.5,83,42],[10.7,127,0],[10.0,28.5,1],[6.1,7.2,3.5],[10.0,28.5,8],[6.5,4.4,3.1],[9.8,49.5,14],
  [10.0,6.1,2.6],[10.9,9.8,4.5],[11.2,36,7],[9.3,27,7.5],[10.5,74,8],[10.7,46,16],[9.8,127,29],[9.8,28,6.5],[9.2,44,20],
  [11.5,20.5,5],[10.2,91,35],[10.2,30,25],[6.4,32,19],[11.9,15,3.5],[9.1,190,20],[10.0,76,8],[12.0,17.3,3.5],[8.25,75,44],
  [10.0,106,17],[10.0,94,3],[9.5,17,5.5],[10.6,147,12],[10.0,73,3.5],[12.1,23.5,5],[10.0,34.5,4],[9.8,22.8,18.5],[10.8,14.5,1],
  [9.6,70,5],[10.0,35,6],[10.0,5.9,1.4],[10.5,22.5,14],[10.9,10,4.2],[10.2,33.5,2],
];

const redCrossPanels = [51];
const blackCrossPanels = [45];

// ---------------- STYLE / LAYOUT ----------------
const FONT = "'Liberation Sans', Arial, Helvetica, sans-serif";
const LBL_SIZE = 17;
const LBL_SX = 0.9; // horizontal squeeze of tick/panel labels (tall, narrow digits)
const LBL_CAP = 12.2;

const RED = 'rgb(240,22,22)';
const COLS = 9;
const COL_STEP = 147.4;
const ROW_STEP = 166.8;
const AXIS_W = 69;
const PLOT_W = 114;
const PLOT_H = 112;
const PAD_TOP = 8;
const XAXIS_H = 50;
const CANVAS_W = AXIS_W + PLOT_W + 4;
const CANVAS_H = PAD_TOP + PLOT_H + XAXIS_H;

const toPoints = (flat: number[]) => {
  const pts: { x: number; y: number }[] = [];
  for (let i = 0; i < flat.length; i += 2) pts.push({ x: flat[i], y: flat[i + 1] });
  return pts;
};

const fmtTick = (v: any) => String(Math.round(Number(v) * 1000) / 1000);

function drawLabel(ctx: CanvasRenderingContext2D, text: string, x: number, y: number, align: CanvasTextAlign) {
  ctx.save();
  ctx.translate(x, y);
  ctx.scale(LBL_SX, 1);
  ctx.textAlign = align;
  ctx.textBaseline = 'alphabetic';
  ctx.fillText(text, 0, 0);
  ctx.restore();
}

const decorPlugin = {
  id: 'panelDecor',
  beforeDatasetsDraw(chart: any, _args: any, opts: any) {
    const { ctx, chartArea } = chart;
    ctx.save();
    ctx.fillStyle = '#000';
    ctx.font = `${LBL_SIZE + 1}px ${FONT}`;
    drawLabel(ctx, String(opts.label), chartArea.left + 103, chartArea.top + 15.5, 'right');
    ctx.restore();
  },
  afterDraw(chart: any) {
    const { ctx, chartArea, scales } = chart;
    const xs = scales.x;
    const ys = scales.y;
    ctx.save();
    // minor ticks along frequency axis
    ctx.strokeStyle = '#222';
    ctx.lineWidth = 1;
    for (let k = 0; k <= 20; k++) {
      const v = xRange[0] + k * 0.5;
      const px = Math.round(xs.getPixelForValue(v)) + 0.5;
      ctx.beginPath();
      ctx.moveTo(px, chartArea.bottom);
      ctx.lineTo(px, chartArea.bottom - 2.5);
      ctx.stroke();
    }
    // tick labels
    ctx.fillStyle = '#000';
    ctx.font = `${LBL_SIZE}px ${FONT}`;
    for (const t of xs.ticks) {
      drawLabel(ctx, fmtTick(t.value), xs.getPixelForValue(t.value), chartArea.bottom + 2 + LBL_CAP, 'center');
    }
    for (const t of ys.ticks) {
      drawLabel(ctx, fmtTick(t.value), chartArea.left - 6, ys.getPixelForValue(t.value) + LBL_CAP / 2, 'right');
    }
    ctx.restore();
  },
};

function Panel({ idx }: { idx: number }) {
  const ref = useRef<HTMLCanvasElement>(null);
  const c = idx % COLS;
  const r = Math.floor(idx / COLS);
  const left = Math.round(COL_STEP * c);
  const top = Math.round(124 + ROW_STEP * r - PLOT_H - PAD_TOP);
  const total = yMaxes.length;
  const showX = idx + COLS >= total;
  const showY = c === 0;

  useEffect(() => {
    if (!ref.current) return;
    const panelNo = idx + 1;
    const yMax = yMaxes[idx];
    const yStep = yStepSizes[idx];
    const d = diffBars[idx];
    const rm = redMarks[idx];
    const bm = blackMarks[idx];
    const redCross = redCrossPanels.includes(panelNo);
    const blackCross = blackCrossPanels.includes(panelNo);

    const yTickVals: number[] = [];
    for (let k = 0; k * yStep <= yMax + 1e-9; k++) yTickVals.push(Math.round(k * yStep * 1000) / 1000);
    const maxLen = Math.max(...yTickVals.map((v) => fmtTick(v).length));
    const titleCenter = 29.4 + (2 - maxLen) * 4.5;
    const titleSize = 18;

    const chart = new Chart(ref.current, {
      type: 'line',
      data: {
        datasets: [
          {
            data: [{ x: bm[0], y: bm[1] }],
            showLine: false,
            pointStyle: blackCross ? 'crossRot' : 'circle',
            pointRadius: blackCross ? 4.5 : 4.2,
            pointBorderWidth: 2.6,
            pointBorderColor: '#000',
            pointBackgroundColor: 'rgba(255,255,255,0)',
            clip: false,
          } as any,
          {
            data: [{ x: rm[0], y: rm[1] }],
            showLine: false,
            pointStyle: redCross ? 'crossRot' : 'circle',
            pointRadius: redCross ? 4.5 : 4.2,
            pointBorderWidth: 2.6,
            pointBorderColor: RED,
            pointBackgroundColor: 'rgba(255,255,255,0)',
            clip: false,
          } as any,
          {
            data: [{ x: d[0], y: d[1] }, { x: d[0], y: d[2] }],
            borderColor: '#000',
            borderWidth: 3,
            pointRadius: 0,
            borderCapStyle: 'butt',
          } as any,
          {
            data: toPoints(redSpectra[idx]),
            borderColor: RED,
            borderWidth: 3.2,
            pointRadius: 0,
            cubicInterpolationMode: 'monotone',
          } as any,
          {
            data: toPoints(graySpectra[idx]),
            borderColor: '#676767',
            borderWidth: 2.8,
            borderDash: [1.2, 1.2],
            pointRadius: 0,
            cubicInterpolationMode: 'monotone',
          } as any,
          {
            data: [{ x: refFreq, y: 0 }, { x: refFreq, y: yMax }],
            borderColor: 'rgba(140,140,140,0.9)',
            borderWidth: 3,
            borderDash: [1, 1],
            pointRadius: 0,
          } as any,
        ],
      },
      options: {
        animation: false,
        responsive: false,
        devicePixelRatio: 1,
        events: [],
        layout: { padding: { top: PAD_TOP, left: 0, right: 4, bottom: 0 } },
        plugins: {
          legend: { display: false },
          tooltip: { enabled: false },
          panelDecor: { label: panelNo },
        } as any,
        scales: {
          x: {
            type: 'linear',
            min: xRange[0],
            max: xRange[1],
            afterBuildTicks: (s: any) => {
              s.ticks = xTickLabels.map((v) => ({ value: v }));
            },
            afterFit: (s: any) => {
              s.height = XAXIS_H;
            },
            grid: { display: false, drawTicks: false },
            border: { display: true, color: '#000', width: 1 },
            ticks: { display: false, autoSkip: false },
            title: {
              display: showX,
              text: xLabel,
              color: '#000',
              font: { family: FONT, size: 18, lineHeight: 1 },
              padding: { top: 0, bottom: 3.5 },
            },
          },
          y: {
            type: 'linear',
            min: 0,
            max: yMax,
            afterBuildTicks: (s: any) => {
              s.ticks = yTickVals.map((v) => ({ value: v }));
            },
            afterFit: (s: any) => {
              s.width = AXIS_W;
            },
            grid: {
              display: true,
              drawOnChartArea: false,
              drawTicks: true,
              tickLength: 3,
              color: '#000',
              lineWidth: 1,
            },
            border: { display: true, color: '#000', width: 1 },
            ticks: { display: false, autoSkip: false },
            title: {
              display: showY,
              text: yLabel,
              color: '#000',
              font: { family: FONT, size: titleSize, lineHeight: 1 },
              padding: { top: titleCenter - titleSize / 2, bottom: 0 },
            },
          },
        },
      } as any,
      plugins: [decorPlugin as any],
    });
    return () => chart.destroy();
  }, [idx]);

  return (
    <canvas
      ref={ref}
      width={CANVAS_W}
      height={CANVAS_H}
      style={{ position: 'absolute', left, top, width: CANVAS_W, height: CANVAS_H }}
    />
  );
}

export default function App() {
  const panels = yMaxes.map((_, i) => i);
  return (
    <div
      style={{
        position: 'absolute',
        left: 0,
        top: 0,
        width: 1376,
        height: 1672,
        background: '#fff',
        overflow: 'hidden',
      }}
    >
      {panels.map((i) => (
        <Panel key={i} idx={i} />
      ))}
    </div>
  );
}
